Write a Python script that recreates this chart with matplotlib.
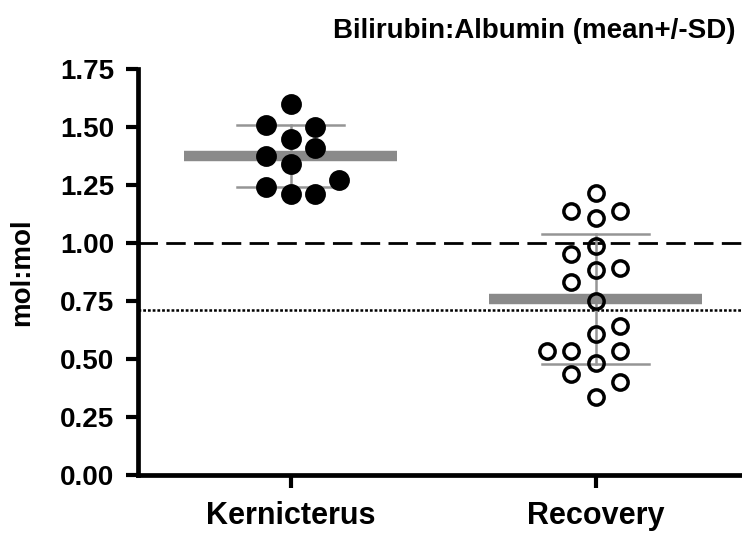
import numpy as np
import matplotlib
matplotlib.use("Agg")
import matplotlib.pyplot as plt

# ── Data ──────────────────────────────────────────────────────────────────
groups = ["Kernicterus", "Recovery"]

kern_vals = [1.60, 1.51, 1.50, 1.45, 1.41, 1.375, 1.34, 1.27, 1.24, 1.21, 1.21]
kern_cols = [0, -1, 1, 0, 1, -1, 0, 2, -1, 0, 1]       # scatter column index

rec_vals = [1.217, 1.139, 1.139, 1.109, 0.987, 0.951, 0.884, 0.891, 0.833,
            0.751, 0.642, 0.606, 0.534, 0.534, 0.534, 0.484, 0.435, 0.402, 0.337]
rec_cols = [0, -1, 1, 0, 0, -1, 0, 1, -1, 0, 1, 0, -2, -1, 1, 0, -1, 1, 0]

dashed_ref = 1.0
dotted_ref = 0.71
yticks = [0.00, 0.25, 0.50, 0.75, 1.00, 1.25, 1.50, 1.75]

plt.rcParams["font.family"] = ["Liberation Sans", "DejaVu Sans"]
plt.rcParams["font.weight"] = "bold"
plt.rcParams["lines.scale_dashes"] = False

fig = plt.figure(figsize=(7.42, 5.36), dpi=100)
ax = fig.add_axes([0.186, 0.1138, 0.814, 0.7575])

col_step = 0.08          # horizontal spacing of jittered points
gray_bar = "#8a8a8a"
gray_sd = "#959595"

# reference lines
ax.axhline(dashed_ref, color="black", lw=2.0, dashes=(14, 6), zorder=1)
ax.axhline(dotted_ref, color="black", lw=1.8, dashes=(2.0, 1.4), zorder=1)

series = [(kern_vals, kern_cols, "black"), (rec_vals, rec_cols, "none")]
for i, (vals, cols, face) in enumerate(series):
    v = np.array(vals)
    m, sd = v.mean(), v.std(ddof=1)
    # SD whisker + caps
    ax.plot([i, i], [m - sd, m + sd], color=gray_sd, lw=1.8, zorder=2)
    for y in (m - sd, m + sd):
        ax.plot([i - 0.175, i + 0.175], [y, y], color=gray_sd, lw=1.8, zorder=2)
    # mean bar
    ax.plot([i - 0.35, i + 0.35], [m, m], color=gray_bar, lw=7.5,
            solid_capstyle="butt", zorder=3)
    x = i + np.array(cols) * col_step
    ax.plot(x, v, "o", ms=12.5 if face == "black" else 11,
            mfc=face, mec="black", mew=2.5, zorder=4, ls="none")

ax.set_xlim(-0.5, 1.48)
ax.set_ylim(0, 1.75)
ax.set_yticks(yticks)
ax.set_yticklabels([f"{t:.2f}" for t in yticks])
ax.set_xticks([0, 1])
ax.set_xticklabels(groups)

for s in ("top", "right"):
    ax.spines[s].set_visible(False)
for s in ("left", "bottom"):
    ax.spines[s].set_linewidth(3.4)
ax.tick_params(axis="y", length=9, width=3, labelsize=20, pad=8)
ax.tick_params(axis="x", length=9, width=3, labelsize=22, pad=10)

ax.set_ylabel("mol:mol", fontsize=20, fontweight="bold")
ax.yaxis.set_label_coords(-0.17, 0.5)

fig.text(0.72, 0.942, "Bilirubin:Albumin (mean+/-SD)", fontsize=20,
         fontweight="bold", ha="center", va="center")

fig.savefig("out.png", dpi=100)
